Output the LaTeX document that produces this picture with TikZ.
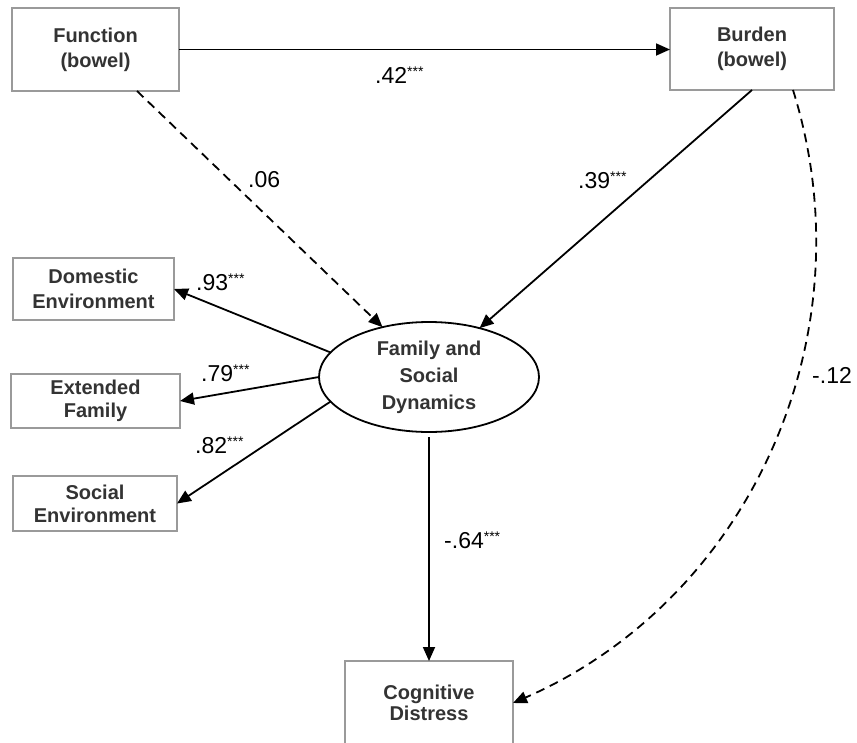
\documentclass[tikz,border=0pt]{standalone}
\usepackage{fontspec}
\setmainfont{Liberation Sans}
\usetikzlibrary{arrows.meta,shapes.geometric}
\definecolor{boxline}{HTML}{9A9A9A}
\definecolor{boxtext}{HTML}{333333}
% significance marker set after a coefficient
\newcommand\sigstars{\raisebox{7pt}{\fontsize{14}{14}\selectfont ***}}

\begin{document}
\begin{tikzpicture}[x=1pt,y=-1pt,
  obs/.style={draw=boxline,line width=1.5pt,fill=white,text=boxtext,
    font=\fontsize{20}{25}\selectfont\bfseries,align=center,
    inner sep=0pt,outer sep=0pt},
  lat/.style={ellipse,draw=black,line width=1.8pt,text=boxtext,
    font=\fontsize{20}{27}\selectfont\bfseries,align=center,
    minimum width=220pt,minimum height=110pt,inner sep=0pt,outer sep=0pt},
  sem/.style={line width=1.8pt,-{Triangle[length=14pt,width=12pt]}},
  ns/.style={sem,dash pattern=on 9pt off 6pt},
  coef/.style={font=\fontsize{23}{23}\selectfont,inner sep=0pt,anchor=base west}
]
\useasboundingbox (0,0) rectangle (857,742);

% observed variables
\node[obs,minimum width=167pt,minimum height=83pt] (fun) at (95.5,49.5) {Function\\(bowel)};
\node[obs,minimum width=164pt,minimum height=82pt] (bur) at (752,49) {Burden\\(bowel)};
\node[obs,minimum width=161pt,minimum height=62pt] (dom) at (93.5,289) {Domestic\\Environment};
\node[obs,minimum width=169pt,minimum height=54pt,
  font=\fontsize{20}{23}\selectfont\bfseries] (ext) at (95.5,401) {Extended\\Family};
\node[obs,minimum width=164pt,minimum height=55pt,
  font=\fontsize{20}{23}\selectfont\bfseries] (soc) at (95,503.5) {Social\\Environment};
\node[obs,minimum width=168pt,minimum height=84pt,
  font=\fontsize{20}{21}\selectfont\bfseries] (cog) at (429,703) {Cognitive\\Distress};

% latent variable
\node[lat] (fsd) at (429,377) {Family and\\Social\\Dynamics};

% paths
\draw[sem] (fun.east) -- (bur.west |- fun.east);
\draw[ns] ([xshift=41.5pt]fun.south) -- (fsd.133);
\draw[sem] (bur.south) -- (fsd.44);
\draw[sem] (fsd.166) -- (dom.east);
\draw[sem] (fsd.west) -- (ext.east);
\draw[sem] (fsd.194) -- (soc.east);
\draw[sem,shorten <=5pt] (fsd.south) -- (cog.north);
\draw[ns] ([xshift=41pt]bur.south) .. controls (870,336) and (749,600) .. (cog.east);

% coefficients
\node[coef] (c1) at (375,83) {.42\sigstars};
\node[coef] (c2) at (248,187) {.06};
\node[coef] (c3) at (578,188) {.39\sigstars};
\node[coef] (c4) at (196,290) {.93\sigstars};
\node[coef] (c5) at (201,381) {.79\sigstars};
\node[coef] (c6) at (195,453) {.82\sigstars};
\node[coef] (c7) at (444,548) {-.64\sigstars};
\node[coef] (c8) at (812,383) {-.12};
\end{tikzpicture}
\end{document}
